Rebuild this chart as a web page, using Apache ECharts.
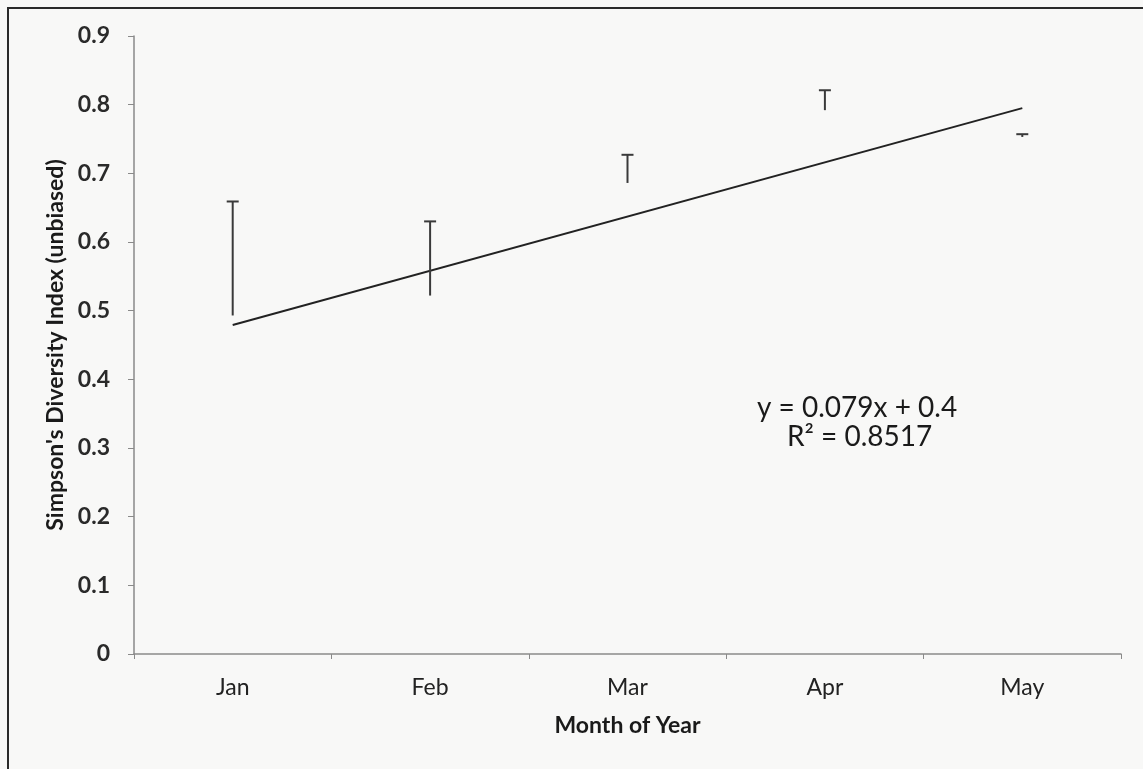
<!DOCTYPE html>
<html>
<head>
<meta charset="utf-8">
<script src="https://cdn.jsdelivr.net/npm/echarts@6/dist/echarts.min.js"></script>
<style>
html,body{margin:0;padding:0;background:#f8f8f7;}
#chart{width:1143px;height:769px;}
</style>
</head>
<body>
<div id="chart"></div>
<script>
// Data
const months = ['Jan', 'Feb', 'Mar', 'Apr', 'May'];
const meanValues = [0.493, 0.522, 0.686, 0.792, 0.753];   // bottom of each error bar
const upperValues = [0.659, 0.630, 0.727, 0.821, 0.757];  // top (cap) of each error bar
const trendValues = [0.479, null, null, null, 0.795];      // linear trend y = 0.079x + 0.4
const yTicks = [0, 0.1, 0.2, 0.3, 0.4, 0.5, 0.6, 0.7, 0.8, 0.9];
const equationText = 'y = 0.079x + 0.4';
const r2Text = 'R\u00B2 = 0.8517';

const font = 'Lato, "Open Sans", sans-serif';
const chart = echarts.init(document.getElementById('chart'));

const errData = months.map((m, i) => [i, meanValues[i], upperValues[i]]);

chart.setOption({
  backgroundColor: '#f8f8f7',
  animation: false,
  grid: { left: 134, right: 22, top: 36, bottom: 115 },
  xAxis: {
    type: 'category',
    data: months,
    boundaryGap: true,
    name: 'Month of Year',
    nameLocation: 'middle',
    nameGap: 60,
    nameTextStyle: { fontFamily: font, fontSize: 23, fontWeight: 'bold', color: '#1a1a1a' },
    axisLine: { lineStyle: { color: '#8a8a8a', width: 1.5 } },
    axisTick: { show: true, length: 5, inside: false, lineStyle: { color: '#8a8a8a' } },
    axisLabel: { fontFamily: font, fontSize: 23, color: '#222', margin: 22 },
    splitLine: { show: false }
  },
  yAxis: {
    type: 'value',
    min: 0,
    max: 0.9,
    interval: 0.1,
    name: "Simpson's Diversity Index (unbiased)",
    nameLocation: 'middle',
    nameGap: 61,
    nameRotate: 90,
    nameTextStyle: { fontFamily: font, fontSize: 23, fontWeight: 'bold', color: '#1a1a1a' },
    axisLine: { show: true, lineStyle: { color: '#8a8a8a', width: 1.5 } },
    axisTick: { show: true, length: 6, lineStyle: { color: '#8a8a8a' } },
    axisLabel: {
      fontFamily: font, fontSize: 23, fontWeight: 'bold', color: '#2a2a2a', margin: 24,
      formatter: v => {
        const t = yTicks.find(k => Math.abs(k - v) < 1e-9);
        return t === 0 ? '0' : String(Number(t.toFixed(1)));
      }
    },
    splitLine: { show: false }
  },
  series: [
    {
      type: 'line',
      data: trendValues,
      connectNulls: true,
      symbol: 'none',
      lineStyle: { color: '#222', width: 2 },
      z: 3
    },
    {
      type: 'custom',
      data: errData,
      renderItem: function (params, api) {
        const x = api.value(0);
        const lo = api.coord([x, api.value(1)]);
        const hi = api.coord([x, api.value(2)]);
        const cap = 6;
        return {
          type: 'group',
          children: [
            { type: 'line', shape: { x1: lo[0], y1: lo[1], x2: hi[0], y2: hi[1] },
              style: { stroke: '#3a3a3a', lineWidth: 2 } },
            { type: 'line', shape: { x1: hi[0] - cap, y1: hi[1], x2: hi[0] + cap, y2: hi[1] },
              style: { stroke: '#3a3a3a', lineWidth: 2 } }
          ]
        };
      },
      z: 4
    }
  ],
  graphic: [
    { type: 'rect', shape: { x: 8, y: 8, width: 1300, height: 1000 },
      style: { fill: 'none', stroke: '#2a2a2a', lineWidth: 2 }, silent: true },
    { type: 'text', left: 757, top: 394, style: { text: equationText,
      font: '28px ' + font, fill: '#1a1a1a' } },
    { type: 'text', left: 787, top: 423, style: { text: r2Text,
      font: '28px ' + font, fill: '#1a1a1a' } }
  ]
});
</script>
</body>
</html>
